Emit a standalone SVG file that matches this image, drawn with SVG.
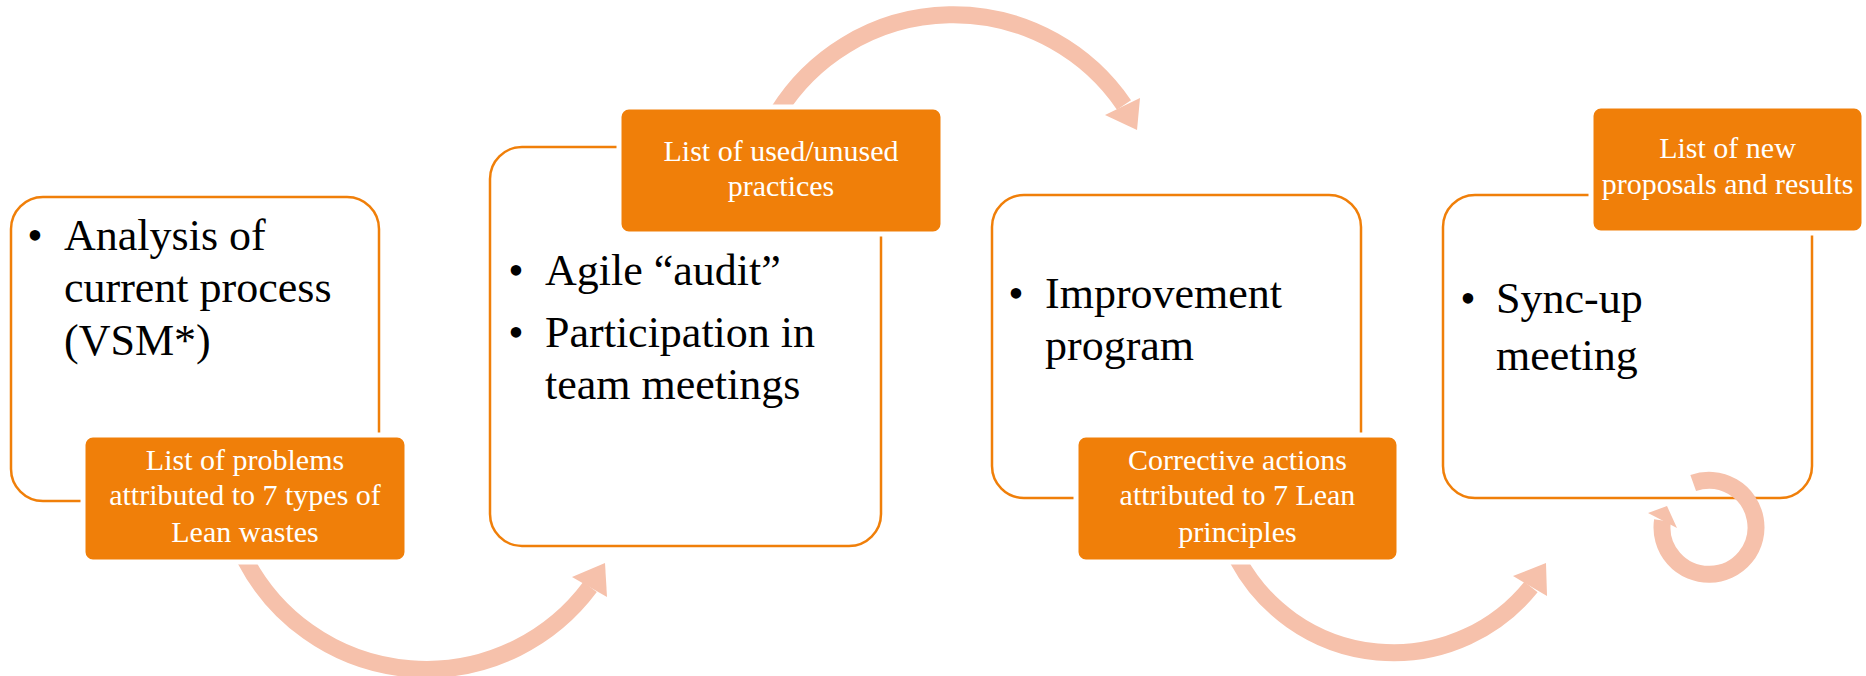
<svg xmlns="http://www.w3.org/2000/svg" width="1866" height="676" viewBox="0 0 1866 676">
<style>
.box{fill:#fff;stroke:#F07F09;stroke-width:2.5}
.lbl{fill:#F07F09;stroke:#fff;stroke-width:5}
.body{font-family:"Liberation Serif",serif;font-size:44px;fill:#000}
.lt{font-family:"Liberation Serif",serif;font-size:30px;fill:#fff;text-anchor:middle}
.bul{text-anchor:middle}
.arc{fill:none;stroke:#F6C1AB;stroke-width:17}
.head{fill:#F6C1AB}
</style>
<rect width="1866" height="676" fill="#fff"/>
<g id="box1"><rect class="box" x="11" y="197" width="368" height="304" rx="32"/>
<text class="body"><tspan class="bul" x="35" y="250">•</tspan><tspan x="64" y="250">Analysis of</tspan><tspan x="64" y="302">current process</tspan><tspan x="64" y="355">(VSM*)</tspan></text></g>
<g id="box2"><rect class="box" x="490" y="147" width="391" height="399" rx="32"/>
<text class="body"><tspan class="bul" x="516" y="285">•</tspan><tspan x="545" y="285">Agile “audit”</tspan><tspan class="bul" x="516" y="347">•</tspan><tspan x="545" y="347">Participation in</tspan><tspan x="545" y="399">team meetings</tspan></text></g>
<g id="box3"><rect class="box" x="992" y="195" width="369" height="303" rx="32"/>
<text class="body"><tspan class="bul" x="1016" y="308">•</tspan><tspan x="1045" y="308">Improvement</tspan><tspan x="1045" y="360">program</tspan></text></g>
<g id="box4"><rect class="box" x="1443" y="195" width="369" height="303" rx="32"/>
<text class="body"><tspan class="bul" x="1468" y="313">•</tspan><tspan x="1496" y="313">Sync-up</tspan><tspan x="1496" y="370">meeting</tspan></text></g>
<g id="connectors">
<path class="arc" d="M 245.5 560 A 204 204 0 0 0 590 587"/>
<polygon class="head" points="572,577 605,563 607,597"/>
<path class="arc" d="M 778 112 A 206.6 206.6 0 0 1 1124 105"/>
<polygon class="head" points="1105,115 1137,130 1140,98"/>
<path class="arc" d="M 1238 560 A 176.7 176.7 0 0 0 1531 587"/>
<polygon class="head" points="1513,576 1546,563 1547,596"/>
<path class="arc" d="M 1693.2 483.1 A 47 47 0 1 1 1662.5 520.5"/>
<polygon class="head" points="1648,513 1667,506 1677,528"/>
</g>
<g id="label1"><rect class="lbl" x="83" y="435" width="324" height="127" rx="10"/>
<text class="lt"><tspan x="245" y="470">List of problems</tspan><tspan x="245" y="505">attributed to 7 types of</tspan><tspan x="245" y="542">Lean wastes</tspan></text></g>
<g id="label2"><rect class="lbl" x="619" y="107" width="324" height="127" rx="10"/>
<text class="lt"><tspan x="781" y="161">List of used/unused</tspan><tspan x="781" y="196">practices</tspan></text></g>
<g id="label3"><rect class="lbl" x="1076" y="435" width="323" height="127" rx="10"/>
<text class="lt"><tspan x="1237.5" y="470">Corrective actions</tspan><tspan x="1237.5" y="505">attributed to 7 Lean</tspan><tspan x="1237.5" y="542">principles</tspan></text></g>
<g id="label4"><rect class="lbl" x="1591" y="106" width="273" height="127" rx="10"/>
<text class="lt"><tspan x="1727.5" y="158">List of new</tspan><tspan x="1727.5" y="194">proposals and results</tspan></text></g>
</svg>
